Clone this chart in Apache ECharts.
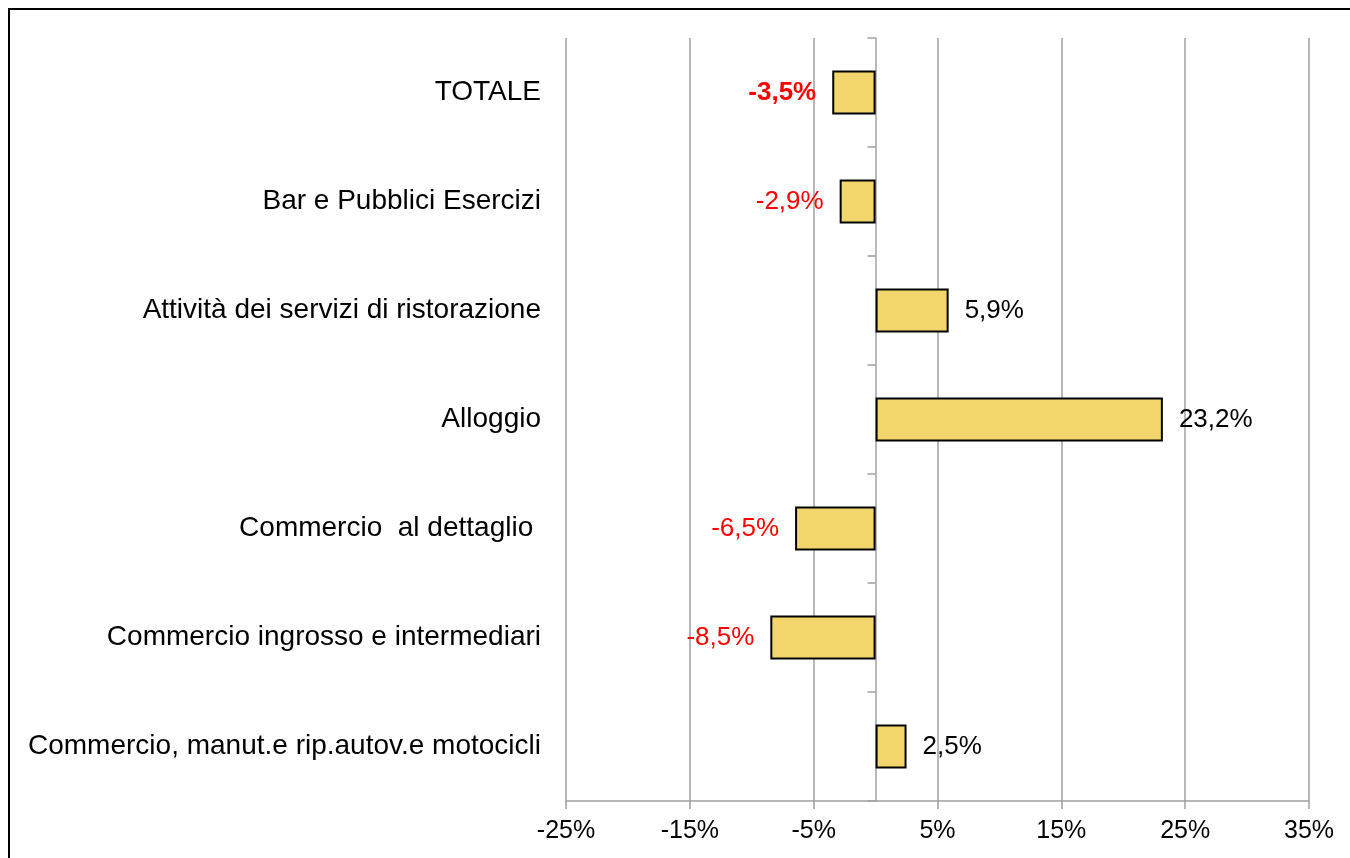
<!DOCTYPE html>
<html>
<head>
<meta charset="utf-8">
<script src="https://cdn.jsdelivr.net/npm/echarts@6/dist/echarts.min.js"></script>
<style>
  html, body { margin: 0; padding: 0; background: #fff; }
  #chart { width: 1350px; height: 858px; }
</style>
</head>
<body>
<div id="chart"></div>
<script>
  // categories listed top to bottom
  var categories = [
    'TOTALE',
    'Bar e Pubblici Esercizi',
    'Attività dei servizi di ristorazione',
    'Alloggio',
    'Commercio  al dettaglio ',
    'Commercio ingrosso e intermediari',
    'Commercio, manut.e rip.autov.e motocicli'
  ]
  var values = [-3.5, -2.9, 5.9, 23.2, -6.5, -8.5, 2.5]
  var axisMin = -25
  var axisMax = 35
  var axisStep = 10

  var fontFamily = '"Liberation Sans", Arial, sans-serif'
  var gridGray = '#a0a0a0'

  var chart = echarts.init(document.getElementById('chart'))

  var barData = []
  for (var i = 0; i < values.length; i++) {
    var v = values[i]
    var neg = v < 0
    barData.push({
      value: v,
      label: {
        position: neg ? 'left' : 'right',
        color: neg ? '#ff0000' : '#000000',
        fontWeight: i === 0 ? 'bold' : 'normal'
      }
    })
  }

  var option = {
    animation: false,
    backgroundColor: '#ffffff',
    textStyle: { fontFamily: fontFamily },
    graphic: [{
      type: 'rect',
      shape: { x: 9, y: 9, width: 2000, height: 2000 },
      style: { fill: 'none', stroke: '#000', lineWidth: 2 },
      silent: true
    }],
    grid: { left: 566, right: 41, top: 38, bottom: 57, containLabel: false },
    xAxis: {
      type: 'value',
      min: axisMin,
      max: axisMax,
      interval: axisStep,
      axisLine: { show: true, onZero: false, lineStyle: { color: gridGray, width: 1.5 } },
      axisTick: { show: true, length: 8, lineStyle: { color: gridGray, width: 1.5 } },
      splitLine: { show: true, lineStyle: { color: gridGray, width: 1.5 } },
      axisLabel: {
        color: '#000',
        fontSize: 25,
        fontFamily: fontFamily,
        margin: 18,
        formatter: function (v) { return v + '%' }
      }
    },
    yAxis: [{
      type: 'category',
      data: categories,
      inverse: true,
      position: 'left',
      axisLine: { show: false, onZero: false },
      axisTick: { show: false },
      axisLabel: { color: '#000', fontSize: 28, fontFamily: fontFamily, margin: 25 }
    }, {
      type: 'category',
      data: categories,
      inverse: true,
      position: 'left',
      axisLine: { show: true, onZero: true, lineStyle: { color: gridGray, width: 1.5 } },
      axisTick: { show: true, length: 8, lineStyle: { color: gridGray, width: 1.5 } },
      axisLabel: { show: false }
    }],
    series: [{
      type: 'bar',
      yAxisIndex: 0,
      data: barData,
      barWidth: 44,
      itemStyle: { color: '#f2d66b', borderColor: '#000', borderWidth: 2 },
      label: {
        show: true,
        fontSize: 26,
        fontFamily: fontFamily,
        distance: 16,
        formatter: function (p) { return String(p.value).replace('.', ',') + '%' }
      },
      z: 1
    }]
  }

  chart.setOption(option)
</script>
</body>
</html>
